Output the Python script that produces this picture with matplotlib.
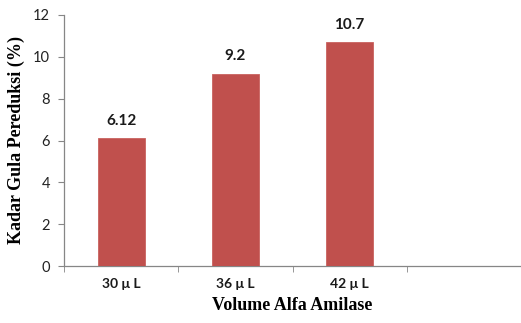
import matplotlib
matplotlib.use("Agg")
import matplotlib.pyplot as plt

categories = ["30 \u03bc L", "36 \u03bc L", "42 \u03bc L", ""]
values = [6.12, 9.2, 10.7]
value_labels = ["6.12", "9.2", "10.7"]
y_ticks = [0, 2, 4, 6, 8, 10, 12]

fig = plt.figure(figsize=(5.21, 3.23), dpi=100)
ax = fig.add_axes([64 / 521, 57 / 323, 1 - 64 / 521, 251 / 323])

bar_color = "#C0504D"
positions = list(range(len(values)))
ax.bar(positions, values, width=0.41, color=bar_color, edgecolor="#C9625F", linewidth=0.6, zorder=3)

for x, v, lab in zip(positions, values, value_labels):
    ax.annotate(lab, (x, v), xytext=(0, 7.5), textcoords="offset points",
                ha="center", va="bottom", fontsize=11, fontweight="bold",
                family="Lato", color="#1a1a1a")

ax.set_xlim(-0.5, len(categories) - 0.5)
ax.set_ylim(0, 12)
ax.set_yticks(y_ticks)
ax.set_yticklabels([str(t) for t in y_ticks], family="Lato", fontsize=10.5, color="#222222")

# category labels centred, tick marks on the category boundaries
ax.set_xticks(range(len(categories)))
ax.set_xticklabels(categories, family="Lato", fontsize=10, fontweight="bold", color="#1a1a1a")
ax.tick_params(axis="x", which="major", length=0, pad=9)
ax.set_xticks([i - 0.5 for i in range(len(categories) + 1)], minor=True)
ax.tick_params(axis="x", which="minor", length=4, color="#868686", direction="out")
ax.tick_params(axis="y", length=4, color="#868686", direction="out", pad=6)

for side in ("top", "right"):
    ax.spines[side].set_visible(False)
for side in ("left", "bottom"):
    ax.spines[side].set_color("#868686")
    ax.spines[side].set_linewidth(0.9)

ax.set_xlabel("Volume Alfa Amilase", family="Liberation Serif", fontweight="bold",
              fontsize=13, labelpad=5)
ax.set_ylabel("Kadar Gula Pereduksi (%)", family="Liberation Serif", fontweight="bold",
              fontsize=13, labelpad=6)

fig.savefig("out.png", dpi=100, facecolor="white")
